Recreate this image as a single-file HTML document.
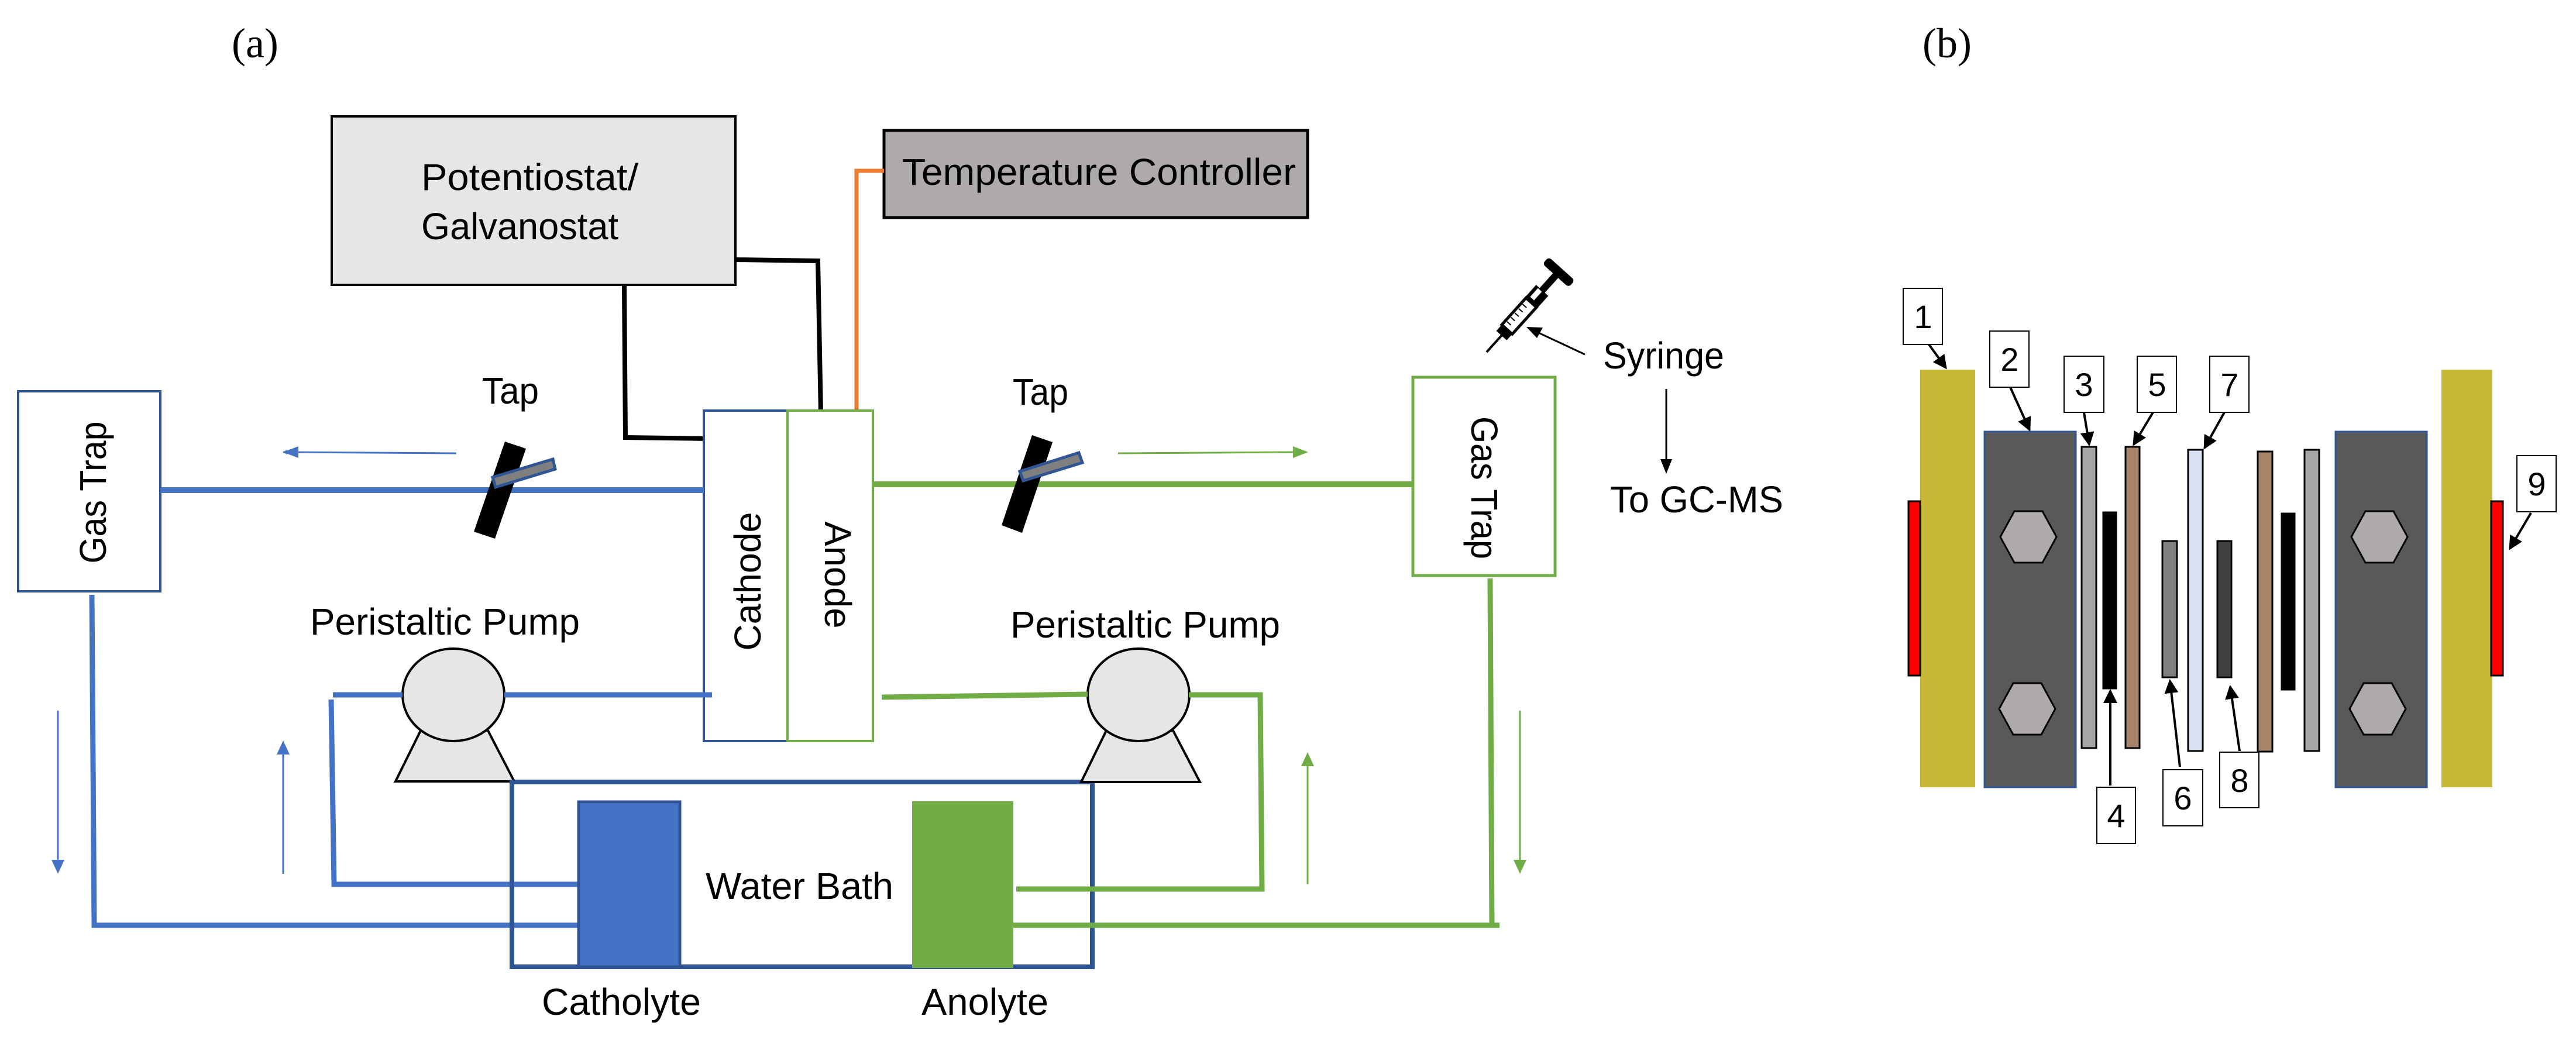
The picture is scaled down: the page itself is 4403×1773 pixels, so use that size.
<!DOCTYPE html>
<html><head><meta charset="utf-8"><style>html,body{margin:0;padding:0;background:#fff}svg{display:block}</style></head>
<body>
<svg width="4403" height="1773" viewBox="0 0 4403 1773" xmlns="http://www.w3.org/2000/svg" font-family="'Liberation Sans', sans-serif">
<defs>
<marker id="ab" markerWidth="8" markerHeight="8" refX="7" refY="4" orient="auto" markerUnits="userSpaceOnUse" viewBox="0 0 8 8"><path d="M0,0 L8,4 L0,8 z" fill="#4472c4"/></marker>
<marker id="ag" markerWidth="8" markerHeight="8" refX="7" refY="4" orient="auto" markerUnits="userSpaceOnUse" viewBox="0 0 8 8"><path d="M0,0 L8,4 L0,8 z" fill="#70ad47"/></marker>
<marker id="ak" viewBox="0 0 8 8" refX="7" refY="4" markerWidth="6" markerHeight="6" orient="auto"><path d="M0,0 L8,4 L0,8 z" fill="#000"/></marker>
</defs>
<rect width="4403" height="1773" fill="#fff"/>
<text x="396" y="98" font-family="'Liberation Serif', serif" font-size="72">(a)</text>
<text x="3286" y="98" font-family="'Liberation Serif', serif" font-size="72">(b)</text>

<!-- Potentiostat -->
<rect x="567" y="199" width="690" height="288" fill="#e6e6e6" stroke="#000" stroke-width="4"/>
<text x="720" y="325" font-size="64" textLength="371" lengthAdjust="spacingAndGlyphs">Potentiostat/</text>
<text x="720" y="409" font-size="64" textLength="337" lengthAdjust="spacingAndGlyphs">Galvanostat</text>
<!-- Temp controller -->
<rect x="1511" y="223" width="724" height="149" fill="#aeaaaa" stroke="#000" stroke-width="5"/>
<text x="1542" y="316" font-size="64" textLength="673" lengthAdjust="spacingAndGlyphs">Temperature Controller</text>
<polyline points="1511,292 1464,292 1464,702" fill="none" stroke="#ed7d31" stroke-width="7"/>
<!-- black wires -->
<polyline points="1067,487 1069,748 1217,750" fill="none" stroke="#000" stroke-width="8"/>
<polyline points="1257,444 1398,446 1403,708" fill="none" stroke="#000" stroke-width="8"/>

<!-- cell -->
<rect x="1203" y="702" width="143" height="565" fill="#fff" stroke="#2f5597" stroke-width="4"/>
<rect x="1346" y="702" width="146" height="565" fill="#fff" stroke="#70ad47" stroke-width="4"/>
<text transform="translate(1300,994) rotate(-90)" text-anchor="middle" font-size="64" textLength="237" lengthAdjust="spacingAndGlyphs">Cathode</text>
<text transform="translate(1410,983) rotate(90)" text-anchor="middle" font-size="64" textLength="183" lengthAdjust="spacingAndGlyphs">Anode</text>

<!-- left gas trap -->
<rect x="31" y="669" width="243" height="342" fill="#fff" stroke="#2f5597" stroke-width="4"/>
<text transform="translate(181,842) rotate(-90)" text-anchor="middle" font-size="64" textLength="243" lengthAdjust="spacingAndGlyphs">Gas Trap</text>
<line x1="274" y1="838" x2="1203" y2="838" stroke="#4472c4" stroke-width="10"/>
<text x="824" y="690" font-size="64" textLength="97" lengthAdjust="spacingAndGlyphs">Tap</text>
<polygon points="863,755 899,767 846,921 810,909" fill="#000"/>
<polygon points="842,816 945,785 949,802 847,833" fill="#7f7f7f" stroke="#2f5597" stroke-width="5"/>
<line x1="780" y1="775" x2="484" y2="773" stroke="#4472c4" stroke-width="3" marker-end="url(#ab)"/>
<!-- marker sized bigger -->
<polygon points="484,773 510,763 510,783" fill="#4472c4"/>

<!-- left pump -->
<text x="530" y="1085" font-size="64" textLength="461" lengthAdjust="spacingAndGlyphs">Peristaltic Pump</text>
<polygon points="719,1249 834,1249 879,1336 676,1336" fill="#e6e6e6" stroke="#000" stroke-width="4"/>
<ellipse cx="775" cy="1188" rx="87" ry="79" fill="#e6e6e6" stroke="#000" stroke-width="4"/>
<line x1="569" y1="1188" x2="688" y2="1188" stroke="#4472c4" stroke-width="9"/>
<line x1="862" y1="1188" x2="1217" y2="1188" stroke="#4472c4" stroke-width="9"/>
<polyline points="566,1196 571,1512 989,1512" fill="none" stroke="#4472c4" stroke-width="9"/>
<polyline points="157,1017 161,1582 989,1582" fill="none" stroke="#4472c4" stroke-width="9"/>
<line x1="99" y1="1215" x2="99" y2="1470" stroke="#4472c4" stroke-width="3"/>
<polygon points="99,1494 88,1470 110,1470" fill="#4472c4"/>
<line x1="484" y1="1494" x2="484" y2="1290" stroke="#4472c4" stroke-width="3"/>
<polygon points="484,1266 473,1290 495,1290" fill="#4472c4"/>

<!-- water bath -->
<rect x="875" y="1337" width="992" height="316" fill="none" stroke="#2f5597" stroke-width="8"/>
<rect x="989" y="1371" width="173" height="282" fill="#4472c4" stroke="#2f5597" stroke-width="5"/>
<rect x="1559" y="1370" width="173" height="285" fill="#70ad47"/>
<text x="1206" y="1537" font-size="64" textLength="321" lengthAdjust="spacingAndGlyphs">Water Bath</text>
<text x="926" y="1735" font-size="64" textLength="272" lengthAdjust="spacingAndGlyphs">Catholyte</text>
<text x="1575" y="1735" font-size="64" textLength="217" lengthAdjust="spacingAndGlyphs">Anolyte</text>

<!-- right side -->
<line x1="1492" y1="828" x2="2415" y2="828" stroke="#70ad47" stroke-width="10"/>
<text x="1731" y="692" font-size="64" textLength="95" lengthAdjust="spacingAndGlyphs">Tap</text>
<polygon points="1764,744 1799,756 1747,911 1712,898" fill="#000"/>
<polygon points="1743,806 1844,774 1850,791 1749,822" fill="#7f7f7f" stroke="#2f5597" stroke-width="5"/>
<line x1="1911" y1="775" x2="2212" y2="773" stroke="#70ad47" stroke-width="3"/>
<polygon points="2236,773 2210,763 2210,783" fill="#70ad47"/>
<rect x="2415" y="645" width="243" height="339" fill="#fff" stroke="#70ad47" stroke-width="5"/>
<text transform="translate(2515,834) rotate(90)" text-anchor="middle" font-size="64" textLength="244" lengthAdjust="spacingAndGlyphs">Gas Trap</text>

<text x="1727" y="1090" font-size="64" textLength="461" lengthAdjust="spacingAndGlyphs">Peristaltic Pump</text>
<polygon points="1891,1249 2005,1249 2051,1337 1848,1337" fill="#e6e6e6" stroke="#000" stroke-width="4"/>
<ellipse cx="1946" cy="1188" rx="87" ry="79" fill="#e6e6e6" stroke="#000" stroke-width="4"/>
<line x1="1507" y1="1192" x2="1859" y2="1187" stroke="#70ad47" stroke-width="9"/>
<polyline points="2032,1188 2154,1188 2157,1520 1737,1520" fill="none" stroke="#70ad47" stroke-width="9"/>
<polyline points="2547,989 2550,1582 1732,1582" fill="none" stroke="#70ad47" stroke-width="9"/>
<line x1="2550" y1="1582" x2="2563" y2="1582" stroke="#70ad47" stroke-width="9"/>
<line x1="2235" y1="1512" x2="2235" y2="1310" stroke="#70ad47" stroke-width="3"/>
<polygon points="2235,1286 2224,1310 2246,1310" fill="#70ad47"/>
<line x1="2598" y1="1215" x2="2598" y2="1470" stroke="#70ad47" stroke-width="3"/>
<polygon points="2598,1494 2587,1470 2609,1470" fill="#70ad47"/>

<!-- syringe -->
<g transform="translate(2541,602) rotate(-48)">
<line x1="0" y1="0" x2="40" y2="0" stroke="#000" stroke-width="4"/>
<rect x="38" y="-12" width="14" height="24" fill="#000"/>
<rect x="52" y="-12" width="62" height="24" fill="#fff" stroke="#000" stroke-width="5"/>
<line x1="62" y1="-9" x2="62" y2="0" stroke="#000" stroke-width="2"/>
<line x1="72" y1="-9" x2="72" y2="0" stroke="#000" stroke-width="2"/>
<line x1="82" y1="-9" x2="82" y2="0" stroke="#000" stroke-width="2"/>
<line x1="92" y1="-9" x2="92" y2="0" stroke="#000" stroke-width="2"/>
<line x1="102" y1="-9" x2="102" y2="0" stroke="#000" stroke-width="2"/>
<rect x="112" y="-14" width="30" height="28" fill="#000"/>
<rect x="120" y="-8" width="20" height="9" fill="#fff"/>
<rect x="140" y="-6" width="38" height="12" fill="#000"/>
<rect x="176" y="-30" width="16" height="60" rx="6" fill="#000"/>
</g>
<text x="2740" y="630" font-size="64" textLength="207" lengthAdjust="spacingAndGlyphs">Syringe</text>
<line x1="2709" y1="606" x2="2630" y2="569" stroke="#000" stroke-width="3"/>
<polygon points="2609,559 2637,560 2627,578" fill="#000"/>
<line x1="2848" y1="665" x2="2848" y2="790" stroke="#000" stroke-width="3"/>
<polygon points="2848,810 2838,785 2858,785" fill="#000"/>
<text x="2752" y="876" font-size="64" textLength="296" lengthAdjust="spacingAndGlyphs">To GC-MS</text>

<!-- (b) cell stack -->
<rect x="3282" y="632" width="94" height="714" fill="#c9b737"/>
<rect x="4173" y="632" width="87" height="714" fill="#c9b737"/>
<rect x="3262" y="857" width="20" height="298" fill="#ff0000" stroke="#000" stroke-width="3"/>
<rect x="4258" y="857" width="20" height="298" fill="#ff0000" stroke="#000" stroke-width="3"/>
<rect x="3392" y="738" width="156" height="608" fill="#595959" stroke="#2f5597" stroke-width="3"/>
<rect x="3992" y="738" width="156" height="608" fill="#595959" stroke="#2f5597" stroke-width="3"/>
<g fill="#aeaaaa" stroke="#000" stroke-width="3">
<polygon points="3419,918 3443,874 3491,874 3515,918 3491,962 3443,962"/>
<polygon points="3417,1212 3441,1168 3489,1168 3513,1212 3489,1256 3441,1256"/>
<polygon points="4019,918 4043,874 4091,874 4115,918 4091,962 4043,962"/>
<polygon points="4016,1212 4040,1168 4088,1168 4112,1212 4088,1256 4040,1256"/>
</g>
<g stroke="#000" stroke-width="3">
<rect x="3558" y="764" width="25" height="515" fill="#a6a6a6"/>
<rect x="3595" y="876" width="22" height="301" fill="#000"/>
<rect x="3633" y="764" width="24" height="515" fill="#a9826a"/>
<rect x="3696" y="925" width="25" height="233" fill="#7f7f7f"/>
<rect x="3740" y="769" width="25" height="515" fill="#dae3f3"/>
<rect x="3790" y="925" width="24" height="233" fill="#404040"/>
<rect x="3859" y="772" width="25" height="513" fill="#a9826a"/>
<rect x="3900" y="878" width="22" height="301" fill="#000"/>
<rect x="3939" y="769" width="25" height="515" fill="#a6a6a6"/>
</g>
<g fill="#fff" stroke="#000" stroke-width="2">
<rect x="3253" y="493" width="67" height="96"/>
<rect x="3401" y="566" width="67" height="96"/>
<rect x="3528" y="609" width="68" height="96"/>
<rect x="3653" y="609" width="67" height="96"/>
<rect x="3777" y="609" width="67" height="96"/>
<rect x="4302" y="779" width="67" height="96"/>
<rect x="3584" y="1346" width="66" height="96"/>
<rect x="3697" y="1316" width="68" height="96"/>
<rect x="3794" y="1286" width="67" height="95"/>
</g>
<g font-size="56" text-anchor="middle">
<text x="3287" y="561">1</text>
<text x="3435" y="634">2</text>
<text x="3562" y="677">3</text>
<text x="3687" y="677">5</text>
<text x="3811" y="677">7</text>
<text x="4336" y="847">9</text>
<text x="3617" y="1414">4</text>
<text x="3731" y="1384">6</text>
<text x="3828" y="1354">8</text>
</g>
<g stroke="#000" stroke-width="4" marker-end="url(#ak)">
<line x1="3297" y1="589" x2="3326" y2="629"/>
<line x1="3436" y1="662" x2="3469" y2="735"/>
<line x1="3562" y1="705" x2="3571" y2="760"/>
<line x1="3680" y1="705" x2="3647" y2="760"/>
<line x1="3802" y1="705" x2="3768" y2="766"/>
<line x1="4326" y1="877" x2="4290" y2="938"/>
<line x1="3607" y1="1343" x2="3607" y2="1181"/>
<line x1="3726" y1="1311" x2="3709" y2="1164"/>
<line x1="3828" y1="1284" x2="3812" y2="1174"/>
</g>
</svg>
</body></html>
